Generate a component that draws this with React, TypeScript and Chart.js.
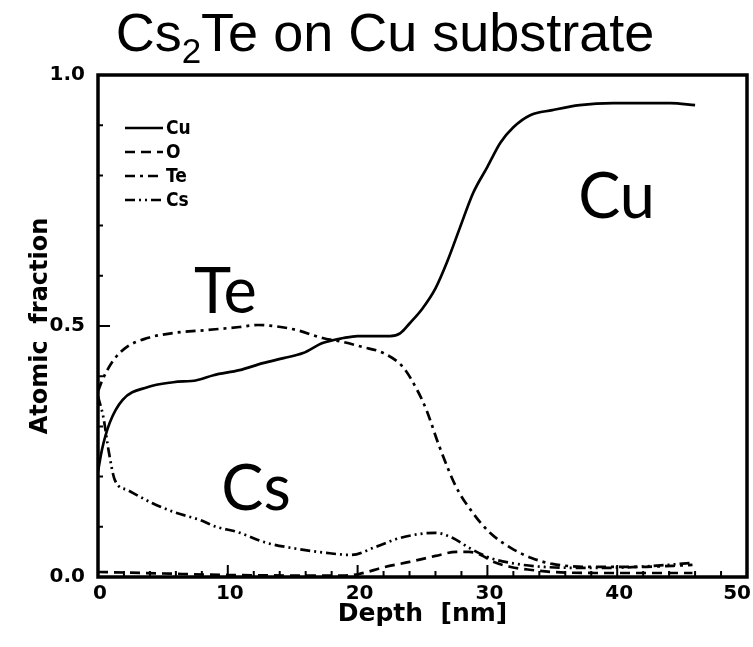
import React, { useEffect, useRef } from "react";
import { Chart, registerables } from "chart.js";

Chart.register(...registerables);

// Depth profile (atomic fraction vs. sputter depth) for Cs2Te grown on a Cu substrate
const cuDepth = [0, 0.3, 0.9, 1.9, 3.8, 5.8, 7.6, 8.9, 10.9, 12.7, 14.3, 15.8, 17.3, 18.9, 20.0, 22.5, 23.3, 24.0, 25.0, 26.0, 26.9, 27.9, 28.9, 30.0, 31.0, 32.0, 33.3, 35.0, 37.1, 39.7, 42.3, 44.1, 46.0];
const cuFrac = [0.21, 0.253, 0.307, 0.353, 0.378, 0.388, 0.392, 0.402, 0.412, 0.426, 0.436, 0.446, 0.466, 0.476, 0.48, 0.48, 0.486, 0.505, 0.535, 0.575, 0.628, 0.697, 0.765, 0.817, 0.865, 0.896, 0.92, 0.93, 0.94, 0.944, 0.944, 0.944, 0.94];

const oDepth = [0, 2, 5, 10, 15, 19, 20.1, 22.1, 24.0, 26.0, 27.6, 28.6, 29.5, 30.5, 31.8, 33.4, 35.0, 38.3, 41.5, 45.8];
const oFrac = [0.01, 0.009, 0.007, 0.004, 0.003, 0.003, 0.006, 0.02, 0.03, 0.042, 0.05, 0.05, 0.044, 0.03, 0.02, 0.014, 0.01, 0.008, 0.008, 0.008];

const teDepth = [0, 0.4, 1.2, 2.2, 3.8, 5.8, 8.4, 10.9, 12.3, 13.5, 15.3, 17.3, 18.9, 20.4, 22.0, 23.5, 24.6, 25.3, 26.3, 27.6, 28.9, 30.2, 31.8, 33.4, 35.0, 38.3, 41.5, 45.8];
const teFrac = [0.37, 0.396, 0.432, 0.458, 0.476, 0.486, 0.492, 0.498, 0.502, 0.5, 0.492, 0.476, 0.468, 0.458, 0.446, 0.418, 0.372, 0.333, 0.26, 0.179, 0.127, 0.088, 0.058, 0.038, 0.026, 0.02, 0.02, 0.024];

const csDepth = [0, 0.4, 0.85, 1.3, 2.3, 4.2, 5.9, 7.8, 9.1, 10.7, 13.0, 14.9, 17.6, 19.5, 21.4, 23.3, 26.0, 27.3, 28.6, 30.2, 31.8, 34.4, 38.3, 41.5, 45.8];
const csFrac = [0.36, 0.32, 0.247, 0.193, 0.173, 0.147, 0.129, 0.114, 0.1, 0.09, 0.068, 0.058, 0.048, 0.044, 0.06, 0.078, 0.088, 0.078, 0.058, 0.038, 0.028, 0.02, 0.018, 0.02, 0.028];

const seriesNames = ["Cu", "O", "Te", "Cs"];
const xTickValues = [0, 10, 20, 30, 40, 50];
const yTickValues = [0.0, 0.5, 1.0];

// Region labels placed in data coordinates: [text, depth, fraction]
const regionLabels: [string, number, number][] = [
  ["Te", 7.4, 0.526],
  ["Cu", 37.0, 0.715],
  ["Cs", 9.5, 0.133],
];

const toPoints = (xs: number[], ys: number[]) => xs.map((x, i) => ({ x, y: ys[i] }));

const AXIS_FONT = '"DejaVu Sans", sans-serif';

const decorPlugin = {
  id: "decor",
  afterDatasetsDraw(chart: any) {
    const { ctx, chartArea: a, scales, width } = chart;
    const xs = scales.x;
    const ys = scales.y;
    ctx.save();
    ctx.setLineDash([]);
    ctx.strokeStyle = "#000";
    ctx.fillStyle = "#000";

    // inward tick marks
    ctx.lineWidth = 2;
    ctx.beginPath();
    for (let v = 0; v <= 50; v += 2) {
      const px = xs.getPixelForValue(v);
      const len = v % 10 === 0 ? 12 : 6;
      ctx.moveTo(px, a.bottom);
      ctx.lineTo(px, a.bottom - len);
    }
    for (let i = 0; i <= 10; i++) {
      const py = ys.getPixelForValue(i / 10);
      const len = i % 5 === 0 ? 12 : 5;
      ctx.moveTo(a.left, py);
      ctx.lineTo(a.left + len, py);
    }
    ctx.stroke();

    // frame
    ctx.lineWidth = 3.5;
    ctx.strokeRect(a.left, a.top, a.right - a.left, a.bottom - a.top);

    // x tick labels, kept inside the canvas at the right edge
    ctx.font = `bold 20px ${AXIS_FONT}`;
    ctx.textAlign = "center";
    ctx.textBaseline = "middle";
    xTickValues.forEach((v) => {
      const label = String(v);
      const w = ctx.measureText(label).width;
      const px = Math.min(xs.getPixelForValue(v) + 2, width - w / 2 - 2);
      ctx.fillText(label, px, a.bottom + 17);
    });

    // legend inside the plot
    const lx0 = a.left + 27;
    const lx1 = a.left + 65;
    ctx.font = 'bold 19px "DejaVu Sans Condensed", "DejaVu Sans", sans-serif';
    ctx.textBaseline = "middle";
    ctx.textAlign = "left";
    chart.data.datasets.forEach((ds: any, i: number) => {
      const yy = a.top + 53 + i * 24;
      ctx.save();
      ctx.lineWidth = 2.5;
      ctx.setLineDash(ds.borderDash || []);
      ctx.beginPath();
      ctx.moveTo(lx0, yy);
      ctx.lineTo(lx1, yy);
      ctx.stroke();
      ctx.restore();
      ctx.fillText(ds.label, lx1 + 3, yy + 1);
    });

    // region labels
    ctx.font = '63px "Lato", sans-serif';
    ctx.textBaseline = "alphabetic";
    regionLabels.forEach(([t, x, y]) => {
      ctx.fillText(t, xs.getPixelForValue(x), ys.getPixelForValue(y));
    });

    // title with subscript
    const big = '54px "Liberation Sans", Arial, sans-serif';
    const small = '35px "Liberation Sans", Arial, sans-serif';
    const parts: [string, string, number][] = [
      ["Cs", big, 0],
      ["2", small, 12],
      ["Te on Cu substrate", big, 0],
    ];
    let total = 0;
    parts.forEach(([t, f]) => {
      ctx.font = f;
      total += ctx.measureText(t).width;
    });
    let tx = 385 - total / 2;
    const baseY = 51;
    parts.forEach(([t, f, dy]) => {
      ctx.font = f;
      ctx.fillText(t, tx, baseY + dy);
      tx += ctx.measureText(t).width;
    });
    ctx.restore();
  },
};

export default function App() {
  const canvasRef = useRef<HTMLCanvasElement | null>(null);

  useEffect(() => {
    if (!canvasRef.current) return;
    const common = { fill: false, pointRadius: 0, borderColor: "#000", borderWidth: 2.7, cubicInterpolationMode: "monotone" as const };
    const chart = new Chart(canvasRef.current, {
      type: "line",
      data: {
        datasets: [
          { ...common, label: seriesNames[0], data: toPoints(cuDepth, cuFrac), borderDash: [] },
          { ...common, label: seriesNames[1], data: toPoints(oDepth, oFrac), borderDash: [10, 6] },
          { ...common, label: seriesNames[2], data: toPoints(teDepth, teFrac), borderDash: [10, 5, 3, 5] },
          { ...common, label: seriesNames[3], data: toPoints(csDepth, csFrac), borderDash: [10, 4, 2, 4, 2, 4] },
        ],
      },
      options: {
        animation: false,
        responsive: false,
        layout: { padding: { top: 75, right: 6, left: 0, bottom: 0 } },
        plugins: { legend: { display: false }, tooltip: { enabled: false }, title: { display: false } },
        scales: {
          x: {
            type: "linear",
            min: 0,
            max: 50,
            afterBuildTicks: (s: any) => {
              s.ticks = xTickValues.map((v) => ({ value: v }));
            },
            afterFit: (s: any) => {
              s.height = 70;
              s.paddingLeft = 0;
              s.paddingRight = 0;
            },
            grid: { display: false, drawTicks: false },
            border: { display: false },
            ticks: { display: false },
            title: {
              display: true,
              text: "Depth  [nm]",
              color: "#000",
              font: { family: AXIS_FONT, size: 25, weight: "bold" },
              padding: { top: 0, bottom: 18 },
            },
          },
          y: {
            type: "linear",
            min: 0,
            max: 1,
            afterBuildTicks: (s: any) => {
              s.ticks = yTickValues.map((v) => ({ value: v }));
            },
            afterFit: (s: any) => {
              s.width = 98;
              s.paddingTop = 0;
              s.paddingBottom = 0;
            },
            grid: { display: false, drawTicks: false },
            border: { display: false },
            ticks: {
              color: "#000",
              padding: 13,
              autoSkip: false,
              font: { family: AXIS_FONT, size: 20, weight: "bold" },
              callback: (v: any) => Number(v).toFixed(1),
            },
            title: {
              display: true,
              text: "Atomic  fraction",
              color: "#000",
              font: { family: AXIS_FONT, size: 24, weight: "bold" },
              padding: { top: 26, bottom: 0 },
            },
          },
        },
      },
      plugins: [decorPlugin],
    });
    return () => chart.destroy();
  }, []);

  return (
    <div style={{ position: "absolute", left: 0, top: 0, width: 753, height: 647, background: "#fff" }}>
      <canvas ref={canvasRef} width={753} height={647} />
    </div>
  );
}
